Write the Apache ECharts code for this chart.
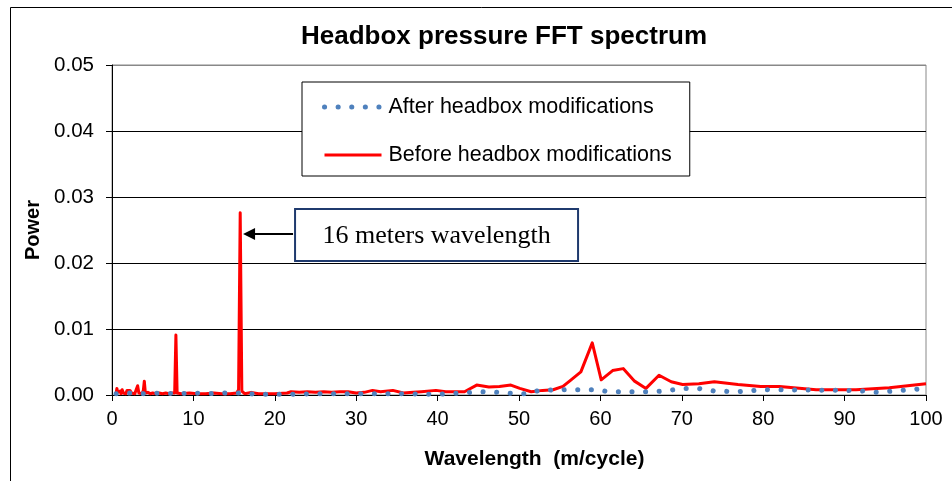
<!DOCTYPE html>
<html>
<head>
<meta charset="utf-8">
<script src="https://cdn.jsdelivr.net/npm/echarts@6/dist/echarts.min.js"></script>
<style>html,body{margin:0;padding:0;background:#fff}#c{width:952px;height:481px}</style>
</head>
<body>
<div id="c"></div>
<script>
// ---- data ----
const seriesNames = ['After headbox modifications', 'Before headbox modifications'];
const yTicks = [0, 0.01, 0.02, 0.03, 0.04, 0.05];
const xTicks = [0, 10, 20, 30, 40, 50, 60, 70, 80, 90, 100];

const beforeWavelength = [0.5,0.6,0.7,0.8,0.9,1.0,1.1,1.25,1.4,1.55,1.7,1.85,2.0,2.2,2.4,2.6,2.8,3.0,3.15,3.3,3.5,3.7,3.85,3.97,4.1,4.4,4.7,5.0,5.4,5.8,6.2,6.6,7.0,7.4,7.7,7.85,8.0,8.5,9.5,10.5,11.5,12.5,13.5,14.5,15.3,15.55,15.75,15.95,16.3,17.1,18,20,21.5,22,23,24,25,26,27,28,29,30,31,32,33,34.5,35.8,37,38,39.8,41,43.3,44.8,46.3,47.6,49.0,50.1,51.5,52.9,54.2,55.4,56.4,57.6,59.0,60.1,61.5,62.8,64.2,65.6,67.2,68.7,70.1,72.1,74.0,76.9,79.7,82.0,86.5,91.4,95.5,100];
const beforePower = [0.0002,0.0010,0.0004,0.0007,0.0003,0.0006,0.0002,0.0008,0.0003,0.0006,0.0002,0.0007,0.0004,0.0007,0.0003,0.0006,0.0002,0.0009,0.0014,0.0003,0.0005,0.0002,0.0007,0.0021,0.0003,0.0004,0.0002,0.0003,0.0002,0.0003,0.0002,0.0003,0.0002,0.0003,0.0003,0.0091,0.0003,0.0002,0.0003,0.0002,0.0002,0.0003,0.0002,0.0002,0.0003,0.0008,0.0276,0.0006,0.0002,0.0004,0.0002,0.0002,0.0003,0.0005,0.0004,0.0005,0.0004,0.0005,0.0004,0.0005,0.0005,0.0003,0.0004,0.0007,0.0005,0.0007,0.0003,0.0004,0.0005,0.0007,0.0005,0.0005,0.0015,0.0012,0.0013,0.0015,0.0010,0.0005,0.0007,0.0008,0.0013,0.0023,0.0035,0.0079,0.0023,0.0037,0.0040,0.0021,0.0010,0.0030,0.0020,0.0016,0.0017,0.0020,0.0016,0.0013,0.0013,0.0008,0.0008,0.0011,0.0017];

const afterWavelength = [0.5,2,4,6,8,10,12,14,15.7,18,20,22,25,30,35,40,43,45,48,49.5,51,52.5,56,59.5,61,66,68,70,72,74,77,80,90,92.5,94,96,100];
const afterPower = [0.0002,0.0003,0.0002,0.0003,0.0002,0.0003,0.0002,0.0003,0.0003,0.0001,0.0001,0.0001,0.0002,0.0002,0.0002,0.0001,0.0003,0.0005,0.0004,0.0002,0.0002,0.0007,0.0008,0.0008,0.0005,0.0005,0.0006,0.0010,0.0010,0.0006,0.0005,0.0008,0.0007,0.0006,0.0004,0.0006,0.0010];

const annotationText = '16 meters wavelength';
const annotationTarget = [16.1, 0.0244];

const pair = (xs, ys) => xs.map((x, i) => [x, ys[i]]);

const chart = echarts.init(document.getElementById('c'), null, {renderer: 'canvas'});
const FONT = '"Liberation Sans", Arial, sans-serif';
const hiddenSymbol = {color: 'rgba(0,0,0,0)', borderWidth: 0, opacity: 0};

chart.setOption({
  animation: false,
  backgroundColor: '#fff',
  title: {
    text: 'Headbox pressure FFT spectrum',
    left: 499, top: 19, textAlign: 'center',
    textStyle: {fontFamily: FONT, fontSize: 26, fontWeight: 'bold', color: '#000'}
  },
  grid: {left: 112, right: 26, top: 65, bottom: 86, show: true, borderColor: '#888', borderWidth: 1},
  legend: {
    orient: 'vertical', left: 302, top: 82,
    padding: [14, 18, 10, 20], itemGap: 26, itemWidth: 57, itemHeight: 14,
    backgroundColor: '#fff', borderColor: '#000', borderWidth: 1,
    textStyle: {fontFamily: FONT, fontSize: 21.5, color: '#000', padding: [0, 0, 0, 2]},
    data: [
      {name: seriesNames[0], itemStyle: hiddenSymbol, lineStyle: {width: 5, type: [0.1, 13.5], cap: 'round', color: '#4F81BD'}},
      {name: seriesNames[1], itemStyle: hiddenSymbol, lineStyle: {width: 3, color: '#FF0000'}}
    ]
  },
  xAxis: {
    type: 'value', min: 0, max: 100, interval: 10,
    name: 'Wavelength  (m/cycle)', nameLocation: 'middle', nameGap: 54,
    nameTextStyle: {fontFamily: FONT, fontSize: 21, fontWeight: 'bold', color: '#000', padding: [0, 0, 0, 31]},
    axisLine: {lineStyle: {color: '#000', width: 1}},
    axisTick: {show: true, length: 6, lineStyle: {color: '#000'}},
    axisLabel: {fontFamily: FONT, fontSize: 20, color: '#000', margin: 14,
      formatter: v => xTicks.indexOf(v) >= 0 ? String(v) : ''},
    splitLine: {show: false}
  },
  yAxis: {
    type: 'value', min: 0, max: 0.05, interval: 0.01,
    name: 'Power', nameLocation: 'middle', nameGap: 68, nameRotate: 90,
    nameTextStyle: {fontFamily: FONT, fontSize: 20, fontWeight: 'bold', color: '#000'},
    axisLine: {show: true, lineStyle: {color: '#000', width: 1}},
    axisTick: {show: true, length: 6, lineStyle: {color: '#000'}},
    axisLabel: {fontFamily: FONT, fontSize: 20.5, color: '#000', margin: 18,
      formatter: v => yTicks.some(t => Math.abs(t - v) < 1e-9) ? v.toFixed(2) : ''},
    splitLine: {show: true, lineStyle: {color: ['#000', '#000', '#000', '#000', '#000', '#888'], width: 1}}
  },
  series: [
    {
      name: seriesNames[1], type: 'line', data: pair(beforeWavelength, beforePower),
      symbol: 'none', z: 2,
      lineStyle: {color: '#FF0000', width: 3, join: 'round'},
      itemStyle: {color: '#FF0000'}
    },
    {
      name: seriesNames[0], type: 'line', data: pair(afterWavelength, afterPower),
      symbol: 'none', z: 3,
      lineStyle: {color: '#4F81BD', width: 5, type: [0.1, 13.5], cap: 'round'},
      itemStyle: {color: '#4F81BD'}
    }
  ]
});

const tip = chart.convertToPixel({gridIndex: 0}, annotationTarget);
const boxLeft = tip[0] + 52, boxTop = tip[1] - 25, boxW = 283, boxH = 52;
chart.setOption({
  graphic: [
    {type: 'rect', left: 8, top: 5, z: -10, silent: true,
      shape: {x: 0.5, y: 0.5, width: 1000, height: 1000},
      style: {fill: 'none', stroke: '#000', lineWidth: 1}},
    {type: 'line', z: 20, silent: true,
      shape: {x1: tip[0] + 10, y1: tip[1], x2: boxLeft - 2, y2: tip[1]},
      style: {stroke: '#000', lineWidth: 2}},
    {type: 'polygon', z: 20, silent: true,
      shape: {points: [[tip[0], tip[1]], [tip[0] + 12, tip[1] - 6], [tip[0] + 12, tip[1] + 6]]},
      style: {fill: '#000'}},
    {type: 'rect', z: 20, silent: true,
      shape: {x: boxLeft, y: boxTop, width: boxW, height: boxH},
      style: {fill: '#fff', stroke: '#1F3A6E', lineWidth: 2}},
    {type: 'text', z: 21, silent: true,
      x: boxLeft + boxW / 2, y: boxTop + boxH / 2 + 1,
      style: {text: annotationText, font: '26px "Liberation Serif", "Times New Roman", serif',
        fill: '#000', align: 'center', verticalAlign: 'middle'}}
  ]
});
</script>
</body>
</html>
